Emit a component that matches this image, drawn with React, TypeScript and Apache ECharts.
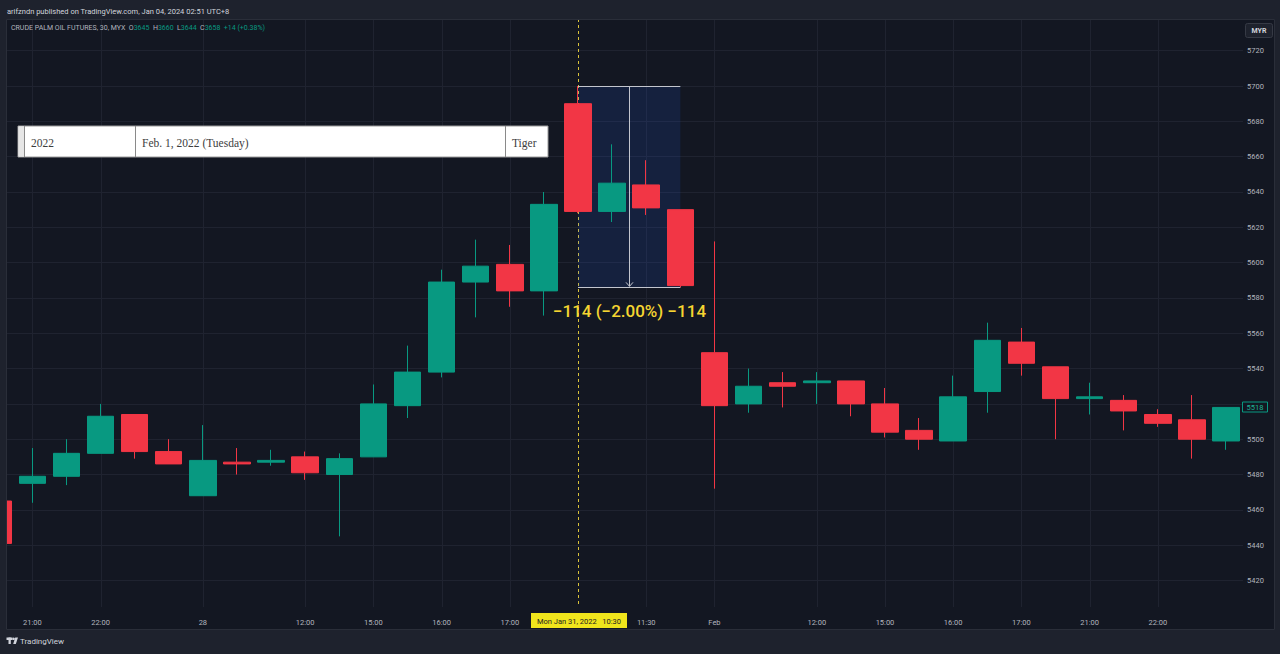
import React, { useEffect, useRef } from "react";
import * as echarts from "echarts";

// ---- data ----
const categories: string[] = [
  "Jan 27 17:30", "Jan 27 21:00", "Jan 27 21:30", "Jan 27 22:00", "Jan 27 22:30", "Jan 27 23:00",
  "Jan 28 10:30", "Jan 28 11:00", "Jan 28 11:30", "Jan 28 12:00", "Jan 28 12:30",
  "Jan 28 15:00", "Jan 28 15:30", "Jan 28 16:00", "Jan 28 16:30", "Jan 28 17:00", "Jan 28 17:30",
  "Jan 31 10:30", "Jan 31 11:00", "Jan 31 11:30", "Jan 31 12:00",
  "Feb 1 10:30", "Feb 1 11:00", "Feb 1 11:30", "Feb 1 12:00", "Feb 1 12:30",
  "Feb 1 15:00", "Feb 1 15:30", "Feb 1 16:00", "Feb 1 16:30", "Feb 1 17:00", "Feb 1 17:30",
  "Feb 1 21:00", "Feb 1 21:30", "Feb 1 22:00", "Feb 1 22:30", "Feb 1 23:00",
];
const tickLabels: string[] = [
  "", "21:00", "", "22:00", "", "",
  "28", "", "", "12:00", "",
  "15:00", "", "16:00", "", "17:00", "",
  "", "", "11:30", "",
  "Feb", "", "", "12:00", "",
  "15:00", "", "16:00", "", "17:00", "",
  "21:00", "", "22:00", "", "",
];
const opens = [5465, 5475, 5479, 5492, 5514, 5493, 5468, 5487, 5487, 5490, 5480, 5490, 5519, 5538, 5589, 5599, 5584, 5690, 5629, 5644, 5630, 5549, 5520, 5532, 5532, 5533, 5520, 5505, 5499, 5527, 5555, 5541, 5523, 5522, 5514, 5511, 5499];
const closes = [5441, 5479, 5492, 5513, 5493, 5486, 5488, 5486, 5488, 5481, 5489, 5520, 5538, 5589, 5598, 5584, 5633, 5629, 5645, 5631, 5587, 5519, 5530, 5530, 5533, 5520, 5504, 5500, 5524, 5556, 5543, 5523, 5524, 5516, 5509, 5500, 5518];
const lows = [5440, 5464, 5474, 5492, 5489, 5486, 5468, 5480, 5485, 5477, 5445, 5490, 5512, 5535, 5569, 5575, 5570, 5628, 5623, 5627, 5586, 5472, 5515, 5518, 5520, 5513, 5501, 5494, 5499, 5515, 5536, 5500, 5514, 5505, 5507, 5489, 5494];
const highs = [5466, 5495, 5500, 5520, 5514, 5500, 5508, 5495, 5494, 5493, 5492, 5531, 5553, 5596, 5613, 5610, 5640, 5700, 5667, 5658, 5630, 5612, 5540, 5538, 5538, 5533, 5529, 5512, 5536, 5566, 5563, 5541, 5532, 5525, 5517, 5525, 5518];

const yMin = 5400;
const yMax = 5740;
const yStep = 20;

const measureFromIndex = 17;
const measureToIndex = 20;
const measureTop = 5700;
const measureBottom = 5586;
const measureLabel = "\u2212114 (\u22122.00%) \u2212114";

const crosshairIndex = 17;
const crosshairLabel = "Mon Jan 31, 2022   10:30";
const lastPrice = 5518;
const hiddenPriceLabel = 5520; // covered by the last-price label

const tableCells = ["2022", "Feb. 1, 2022 (Tuesday)", "Tiger"];
const headerText = "arifzndn published on TradingView.com, Jan 04, 2024 02:51 UTC+8";
const symbolText = "CRUDE PALM OIL FUTURES, 30, MYX";
const ohlcLetters = ["O", "H", "L", "C"];
const ohlcValues = ["3645", "3660", "3644", "3658"];
const changeText = "+14 (+0.38%)";
const currency = "MYR";

export default function App() {
  const ref = useRef<HTMLDivElement>(null);

  useEffect(() => {
    const el = ref.current!;
    const chart = echarts.init(el, null, { renderer: "svg", width: 1280, height: 654 });
    const BG = "#131722";
    const OUT = "#1e222d";
    const GRID = "#1f2330";
    const UP = "#089981";
    const DOWN = "#f23645";
    const TXT = "#b2b5be";
    const FONT = "Roboto";

    const data = opens.map((o, i) => [o, closes[i], lows[i], highs[i]]);
    const labelOf = new Map<string, string>();
    categories.forEach((c, i) => labelOf.set(c, tickLabels[i]));

    chart.setOption({
      animation: false,
      backgroundColor: BG,
      grid: { left: -18.85, right: 36.9, top: 15.4, bottom: 38.2, outerBoundsMode: "none", containLabel: false },
      xAxis: {
        type: "category",
        data: categories,
        boundaryGap: true,
        axisLine: { show: false },
        axisTick: { show: false },
        splitLine: { show: false },
        axisLabel: {
          interval: (i: number) => tickLabels[i] !== "",
          formatter: (v: string) => labelOf.get(v) || "",
          color: TXT,
          fontSize: 7.5,
          fontFamily: FONT,
          margin: 3,
        },
      },
      yAxis: {
        type: "value",
        position: "right",
        min: yMin,
        max: yMax,
        interval: yStep,
        axisLine: { show: false },
        axisTick: { show: false },
        axisLabel: {
          color: TXT,
          fontSize: 7.5,
          fontFamily: FONT,
          margin: 4,
          showMinLabel: false,
          showMaxLabel: false,
          formatter: (v: number) => (v === hiddenPriceLabel ? "" : String(v)),
        },
        splitLine: { lineStyle: { color: GRID, width: 1 }, showMinLine: false, showMaxLine: false },
      },
      series: [
        {
          type: "candlestick",
          data,
          barWidth: 27,
          itemStyle: { color: UP, color0: DOWN, borderColor: UP, borderColor0: DOWN, borderWidth: 1 },
        },
      ],
    });

    const px = (i: number, v: number) => chart.convertToPixel({ gridIndex: 0 }, [i, v]) as number[];

    const plotTop = 19;
    const plotBottom = 607;

    const elements: any[] = [];

    // vertical grid lines at labelled ticks
    tickLabels.forEach((t, i) => {
      if (!t) return;
      const x = Math.round(px(i, 5600)[0]) + 0.5;
      elements.push({ type: "line", silent: true, z: 1, shape: { x1: x, y1: plotTop, x2: x, y2: plotBottom }, style: { stroke: GRID, lineWidth: 1 } });
    });

    // crosshair dashed line
    const cx = Math.round(px(crosshairIndex, 5600)[0]) + 0.5;
    elements.push({ type: "line", silent: true, z: 1, shape: { x1: cx, y1: plotTop, x2: cx, y2: plotBottom }, style: { stroke: "#d9c23a", lineWidth: 1, lineDash: [3, 3] } });

    // measurement box
    const [mx1, myTop] = px(measureFromIndex, measureTop);
    const [mx2, myBot] = px(measureToIndex, measureBottom);
    const mxm = Math.round((mx1 + mx2) / 2) + 0.5;
    elements.push({ type: "rect", silent: true, z: 1, shape: { x: mx1, y: myTop, width: mx2 - mx1, height: myBot - myTop }, style: { fill: "rgba(41,98,255,0.13)" } });
    elements.push({ type: "line", silent: true, z: 3, shape: { x1: mx1, y1: Math.round(myTop) + 0.5, x2: mx2, y2: Math.round(myTop) + 0.5 }, style: { stroke: "#c3c6ce", lineWidth: 1 } });
    elements.push({ type: "line", silent: true, z: 3, shape: { x1: mx1, y1: Math.round(myBot) + 0.5, x2: mx2, y2: Math.round(myBot) + 0.5 }, style: { stroke: "#c3c6ce", lineWidth: 1 } });
    elements.push({ type: "line", silent: true, z: 3, shape: { x1: mxm, y1: myTop, x2: mxm, y2: myBot - 1 }, style: { stroke: "#c3c6ce", lineWidth: 1 } });
    elements.push({ type: "polyline", silent: true, z: 3, shape: { points: [[mxm - 3.5, myBot - 5], [mxm, myBot - 1], [mxm + 3.5, myBot - 5]] }, style: { stroke: "#c3c6ce", lineWidth: 1, fill: "none" } });
    elements.push({ type: "text", silent: true, z: 3, x: mxm, y: myBot + 24, style: { text: measureLabel, fill: "#f5d531", fontSize: 17, fontWeight: 500, fontFamily: FONT, align: "center", verticalAlign: "middle" } });

    // table (white box)
    const tY = 126, tH = 31;
    elements.push({ type: "rect", silent: true, z: 60, shape: { x: 18, y: tY, width: 530, height: tH }, style: { fill: "#ffffff", stroke: "#9a9a9a", lineWidth: 1 } });
    elements.push({ type: "rect", silent: true, z: 61, shape: { x: 18.5, y: tY + 0.5, width: 5.5, height: tH - 1 }, style: { fill: "#e6e6e6" } });
    [24.5, 135.5, 505.5].forEach((x) => elements.push({ type: "line", silent: true, z: 61, shape: { x1: x, y1: tY, x2: x, y2: tY + tH }, style: { stroke: "#8a8a8a", lineWidth: 1 } }));
    [31, 142, 512].forEach((x, k) => elements.push({ type: "text", silent: true, z: 62, x, y: tY + tH / 2 + 1, style: { text: tableCells[k], fill: "#3d3d3d", fontSize: 11.5, fontFamily: "Liberation Serif", verticalAlign: "middle" } }));

    // last price label
    const lpY = px(36, lastPrice)[1];
    elements.push({ type: "rect", silent: true, z: 60, shape: { x: 1242.5, y: Math.round(lpY) - 5, width: 25, height: 10 }, style: { fill: BG, stroke: UP, lineWidth: 1 } });
    elements.push({ type: "text", silent: true, z: 61, x: 1255, y: Math.round(lpY) + 0.5, style: { text: String(lastPrice), fill: "#1fb295", fontSize: 7.5, fontFamily: FONT, align: "center", verticalAlign: "middle" } });

    // frame around chart
    elements.push({ type: "rect", silent: true, z: 100, shape: { x: 0, y: 0, width: 1280, height: 19 }, style: { fill: OUT } });
    elements.push({ type: "rect", silent: true, z: 100, shape: { x: 0, y: 0, width: 6, height: 654 }, style: { fill: OUT } });
    elements.push({ type: "rect", silent: true, z: 100, shape: { x: 1275, y: 0, width: 5, height: 654 }, style: { fill: OUT } });
    elements.push({ type: "rect", silent: true, z: 100, shape: { x: 0, y: 630, width: 1280, height: 24 }, style: { fill: OUT } });
    elements.push({ type: "rect", silent: true, z: 101, shape: { x: 6.5, y: 19.5, width: 1268, height: 610 }, style: { fill: "none", stroke: "#2a2e39", lineWidth: 1 } });

    // header texts
    elements.push({ type: "text", silent: true, z: 102, x: 7, y: 11, style: { text: headerText, fill: "#d1d4dc", fontSize: 7.5, fontFamily: FONT, verticalAlign: "middle" } });
    const ohlcRich = ohlcLetters.map((l, k) => `{a|${l}}{g|${ohlcValues[k]}}`).join("{a|  }");
    elements.push({
      type: "text", silent: true, z: 102, x: 11, y: 28,
      style: {
        text: `{a|${symbolText}  }${ohlcRich}{g|  ${changeText}}`,
        verticalAlign: "middle",
        rich: {
          a: { fill: TXT, fontSize: 7, fontFamily: FONT },
          g: { fill: UP, fontSize: 7, fontFamily: FONT },
        },
      },
    });

    // currency box
    elements.push({ type: "rect", silent: true, z: 102, shape: { x: 1245.5, y: 23.5, width: 27, height: 14, r: 2 }, style: { fill: "#1e222d", stroke: "#363a45", lineWidth: 1 } });
    elements.push({ type: "text", silent: true, z: 103, x: 1259, y: 31, style: { text: currency, fill: "#d1d4dc", fontSize: 7, fontWeight: "bold", fontFamily: FONT, align: "center", verticalAlign: "middle" } });

    // crosshair date label
    elements.push({ type: "rect", silent: true, z: 102, shape: { x: cx - 47.5, y: 613, width: 96, height: 15 }, style: { fill: "#f0e51c" } });
    elements.push({ type: "text", silent: true, z: 103, x: cx + 0.5, y: 621, style: { text: crosshairLabel, fill: "#222222", fontSize: 7.5, fontFamily: FONT, align: "center", verticalAlign: "middle", whiteSpace: "pre" } });

    // TradingView logo
    elements.push({
      type: "group", z: 102, silent: true,
      children: [
        { type: "rect", z: 102, shape: { x: 6.5, y: 637.5, width: 6, height: 2.5 }, style: { fill: "#d1d4dc" } },
        { type: "rect", z: 102, shape: { x: 8.5, y: 637.5, width: 2.3, height: 6.5 }, style: { fill: "#d1d4dc" } },
        { type: "circle", z: 102, shape: { cx: 13.6, cy: 638.8, r: 1.3 }, style: { fill: "#d1d4dc" } },
        { type: "polygon", z: 102, shape: { points: [[15.2, 637.5], [18, 637.5], [15.8, 644], [13.2, 644]] }, style: { fill: "#d1d4dc" } },
      ],
    });
    elements.push({ type: "text", silent: true, z: 102, x: 20, y: 641, style: { text: "TradingView", fill: "#d1d4dc", fontSize: 8, fontFamily: FONT, verticalAlign: "middle" } });

    chart.setOption({ graphic: { elements } });

    return () => chart.dispose();
  }, []);

  return <div ref={ref} style={{ position: "fixed", left: 0, top: 0, width: 1280, height: 654 }} />;
}
